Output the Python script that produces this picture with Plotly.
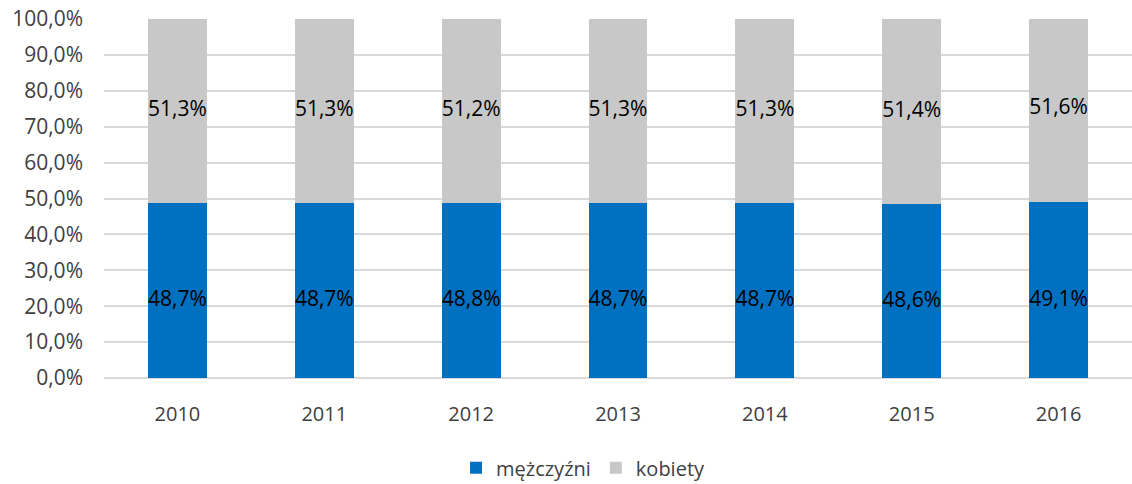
import plotly.graph_objects as go

years = ["2010", "2011", "2012", "2013", "2014", "2015", "2016"]
men = [48.7, 48.7, 48.8, 48.7, 48.7, 48.6, 49.1]
women = [51.3, 51.3, 51.2, 51.3, 51.3, 51.4, 51.6]
y_ticks = [0, 10, 20, 30, 40, 50, 60, 70, 80, 90, 100]
y_tick_labels = ["0,0%", "10,0%", "20,0%", "30,0%", "40,0%", "50,0%",
                 "60,0%", "70,0%", "80,0%", "90,0%", "100,0%"]

font_family = "Open Sans, Noto Sans, sans-serif"


def fmt(v):
    return f"{v:.1f}".replace(".", ",") + "%"


fig = go.Figure()
fig.add_trace(go.Bar(
    x=years, y=men, name="mężczyźni",
    marker=dict(color="#0070C0", line=dict(width=0)),
    hoverinfo="skip",
))
fig.add_trace(go.Bar(
    x=years, y=women, name="kobiety",
    marker=dict(color="#C8C8C8", line=dict(width=0)),
    hoverinfo="skip",
))
# data labels centered in each segment
fig.add_trace(go.Scatter(
    x=years, y=[m / 2 for m in men], mode="text",
    text=[fmt(m) for m in men], textposition="bottom center",
    textfont=dict(color="#000000", size=21, family=font_family),
    showlegend=False, hoverinfo="skip",
))
fig.add_trace(go.Scatter(
    x=years, y=[m + w / 2 for m, w in zip(men, women)], mode="text",
    text=[fmt(w) for w in women], textposition="middle center",
    textfont=dict(color="#000000", size=21, family=font_family),
    showlegend=False, hoverinfo="skip",
))

fig.update_layout(
    barmode="stack",
    bargap=0.6,
    width=1132, height=484,
    margin=dict(l=104, r=0, t=19, b=106, autoexpand=False),
    plot_bgcolor="white", paper_bgcolor="white",
    font=dict(family=font_family, size=20, color="#404040"),
    legend=dict(orientation="h", x=0.466, xanchor="center", y=-0.25, yanchor="middle",
                font=dict(size=20, color="#404040"), traceorder="normal"),
    xaxis=dict(showgrid=False, showline=False, ticks="", tickfont=dict(size=20),
               ticklabelstandoff=22),
    yaxis=dict(range=[0, 100], tickvals=y_ticks, ticktext=y_tick_labels,
               showgrid=True, gridcolor="#D9D9D9", gridwidth=1.5,
               zeroline=True, zerolinecolor="#D9D9D9", zerolinewidth=1.5,
               showline=False, ticks="", tickfont=dict(size=21), ticklabelstandoff=20),
)

fig.write_html("out.html")
